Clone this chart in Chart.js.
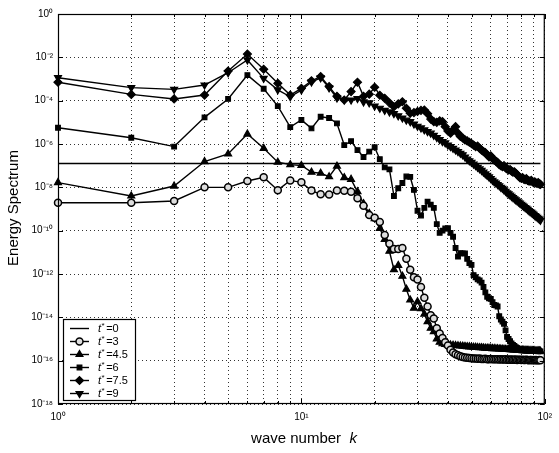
<!DOCTYPE html>
<html>
<head>
<meta charset="utf-8">
<script src="https://cdn.jsdelivr.net/npm/chart.js@4.4.0/dist/chart.umd.min.js"></script>
<style>
  html, body { margin: 0; padding: 0; background: #fff; }
  canvas { display: block; }
</style>
</head>
<body>
<canvas id="spectrum" width="559" height="453"></canvas>
<script>
// wave numbers k
const kValues = [
  1, 2, 3, 4, 5, 6, 7, 8, 9, 10,
  11, 12, 13, 14, 15, 16, 17, 18, 19, 20,
  21, 22, 23, 24, 25, 26, 27, 28, 29, 30,
  31, 32, 33, 34, 35, 36, 37, 38, 39, 40,
  41, 42, 43, 44, 45, 46, 47, 48, 49, 50,
  51, 52, 53, 54, 55, 56, 57, 58, 59, 60,
  61, 62, 63, 64, 65, 66, 67, 68, 69, 70,
  71, 72, 73, 74, 75, 76, 77, 78, 79, 80,
  81, 82, 83, 84, 85, 86, 87, 88, 89, 90,
  91, 92, 93, 94, 95, 96
];

// energy spectra, stored as log10(E)
const t0K = [1, 96];
const t0Log = [-6.9, -6.9];

const t3Log = [
  -8.71, -8.71, -8.63, -8.00, -8.00, -7.71, -7.54, -8.13, -7.68, -7.77,
  -8.15, -8.32, -8.33, -8.15, -8.16, -8.20, -8.50, -8.85, -9.28, -9.40,
  -9.60, -10.20, -10.60, -10.85, -10.85, -10.80, -11.30, -11.80, -12.15, -12.25,
  -12.60, -13.10, -13.50, -13.90, -14.05, -14.50, -14.75, -14.95, -15.15, -15.30,
  -15.50, -15.62, -15.70, -15.75, -15.80, -15.83, -15.85, -15.87, -15.88, -15.89,
  -15.90, -15.90, -15.91, -15.90, -15.92, -15.92, -15.91, -15.93, -15.93, -15.92,
  -15.94, -15.93, -15.94, -15.94, -15.95, -15.94, -15.95, -15.95, -15.94, -15.96,
  -15.95, -15.96, -15.95, -15.96, -15.96, -15.95, -15.97, -15.96, -15.96, -15.97,
  -15.96, -15.97, -15.97, -15.96, -15.97, -15.98, -15.97, -15.97, -15.98, -15.97,
  -15.98, -15.97, -15.98, -15.98, -15.97, -15.98
];

const t45Log = [
  -7.78, -8.40, -7.94, -6.81, -6.46, -5.54, -6.20, -6.84, -6.95, -6.99,
  -7.30, -7.35, -7.51, -7.02, -7.55, -7.63, -8.20, -8.75, -9.20, -9.45,
  -9.90, -10.40, -10.95, -11.80, -11.60, -12.10, -12.70, -13.20, -13.58, -13.28,
  -13.60, -13.85, -14.20, -14.50, -14.66, -15.00, -15.15, -15.22, -15.25, -15.27,
  -15.28, -15.29, -15.30, -15.31, -15.32, -15.33, -15.34, -15.35, -15.36, -15.37,
  -15.38, -15.38, -15.39, -15.40, -15.40, -15.41, -15.42, -15.42, -15.43, -15.43,
  -15.44, -15.44, -15.45, -15.45, -15.46, -15.46, -15.47, -15.47, -15.48, -15.48,
  -15.48, -15.49, -15.49, -15.50, -15.50, -15.50, -15.51, -15.51, -15.51, -15.52,
  -15.52, -15.52, -15.52, -15.53, -15.53, -15.53, -15.53, -15.54, -15.54, -15.54,
  -15.54, -15.55, -15.55, -15.55, -15.55, -15.56
];

const t6Log = [
  -5.25, -5.71, -6.12, -4.77, -3.92, -2.82, -3.45, -4.25, -5.22, -4.89,
  -5.28, -4.74, -4.80, -5.05, -6.05, -5.87, -6.28, -6.60, -6.35, -6.15,
  -6.70, -7.08, -7.17, -8.40, -8.04, -7.80, -7.50, -7.52, -8.12, -9.08,
  -9.30, -8.95, -8.66, -8.80, -8.95, -9.70, -10.10, -10.00, -9.90, -9.89,
  -10.10, -10.28, -10.80, -11.20, -11.04, -11.05, -11.05, -11.30, -11.50, -11.58,
  -12.05, -12.15, -12.25, -12.30, -12.40, -12.60, -12.85, -13.05, -13.12, -13.15,
  -13.30, -13.43, -13.45, -13.50, -13.95, -14.10, -14.20, -14.30, -14.60, -14.90,
  -15.00, -15.10, -15.20, -15.27, -15.32, -15.38, -15.42, -15.48, -15.50, -15.52,
  -15.52, -15.53, -15.52, -15.54, -15.53, -15.54, -15.55, -15.54, -15.55, -15.56,
  -15.55, -15.56, -15.56, -15.57, -15.56, -15.57
];

const t75Log = [
  -3.15, -3.71, -3.92, -3.74, -2.63, -1.85, -2.55, -3.20, -3.74, -3.43,
  -3.08, -2.89, -3.35, -3.80, -3.97, -3.58, -3.15, -3.80, -3.70, -3.38,
  -3.75, -3.89, -4.10, -4.28, -4.15, -4.05, -4.35, -4.58, -4.55, -4.50,
  -4.45, -4.43, -4.60, -4.85, -4.97, -5.00, -4.93, -4.97, -5.20, -5.40,
  -5.50, -5.35, -5.20, -5.50, -5.65, -5.72, -5.81, -5.86, -5.92, -5.98,
  -6.05, -6.12, -6.10, -6.20, -6.28, -6.35, -6.40, -6.50, -6.59, -6.55,
  -6.65, -6.75, -6.80, -6.85, -6.95, -7.00, -7.05, -7.00, -7.10, -7.15,
  -7.20, -7.18, -7.25, -7.30, -7.28, -7.35, -7.42, -7.48, -7.55, -7.58,
  -7.55, -7.62, -7.65, -7.60, -7.68, -7.70, -7.72, -7.68, -7.74, -7.78,
  -7.75, -7.80, -7.82, -7.78, -7.85, -7.86
];

const t9Log = [
  -2.94, -3.40, -3.48, -3.28, -2.71, -2.12, -2.97, -3.50, -3.82, -3.51,
  -3.14, -2.95, -3.41, -3.88, -3.97, -3.97, -3.90, -4.06, -4.10, -4.25,
  -4.35, -4.45, -4.52, -4.60, -4.70, -4.80, -4.90, -4.97, -5.08, -5.18,
  -5.26, -5.35, -5.43, -5.50, -5.60, -5.70, -5.80, -5.89, -5.95, -6.05,
  -6.12, -6.20, -6.28, -6.35, -6.43, -6.50, -6.60, -6.70, -6.78, -6.85,
  -6.93, -7.00, -7.08, -7.15, -7.22, -7.30, -7.38, -7.45, -7.52, -7.60,
  -7.68, -7.75, -7.80, -7.87, -7.93, -8.00, -8.05, -8.12, -8.18, -8.25,
  -8.30, -8.36, -8.42, -8.47, -8.53, -8.58, -8.63, -8.68, -8.73, -8.78,
  -8.83, -8.88, -8.93, -8.97, -9.02, -9.07, -9.12, -9.16, -9.20, -9.25,
  -9.30, -9.34, -9.38, -9.43, -9.47, -9.52
];

// axis ticks
const xTicks = [1, 2, 3, 4, 5, 6, 7, 8, 9, 10, 20, 30, 40, 50, 60, 70, 80, 90, 100];
const xLabelled = [1, 10, 100];
const yTicks = [1e-18, 1e-16, 1e-14, 1e-12, 1e-10, 1e-8, 1e-6, 1e-4, 1e-2, 1];

const legendValues = ['0', '3', '4.5', '6', '7.5', '9'];

const FONT = "'Liberation Sans', Arial, Helvetica, sans-serif";
const SUP = { '-': '\u207B', '0': '\u2070', '1': '\u00B9', '2': '\u00B2', '3': '\u00B3', '4': '\u2074',
  '5': '\u2075', '6': '\u2076', '7': '\u2077', '8': '\u2078', '9': '\u2079' };

function powLabel(v) {
  const e = String(Math.round(Math.log10(v)));
  return '10' + e.split('').map(c => SUP[c]).join('');
}

function toPoints(ks, logs) {
  return ks.map((k, i) => ({ x: k, y: Math.pow(10, logs[i]) }));
}

function series(label, ks, logs, style) {
  return Object.assign({
    label,
    data: toPoints(ks, logs),
    borderColor: '#000',
    borderWidth: 1.4,
    pointRadius: 3.5,
    pointHoverRadius: 3.5,
    pointStyle: 'circle',
    pointRotation: 0,
    pointBackgroundColor: '#000',
    pointBorderColor: '#000',
    pointBorderWidth: 1.2,
    tension: 0,
    fill: false,
    clip: false
  }, style);
}

const datasets = [
  series('t0', t0K, t0Log, { pointRadius: 0, pointStyle: false }),
  series('t3', kValues, t3Log, { pointStyle: 'circle', pointBackgroundColor: '#ddd', pointBorderWidth: 1.5 }),
  series('t4.5', kValues, t45Log, { pointStyle: 'triangle', pointRadius: 4 }),
  series('t6', kValues, t6Log, { pointStyle: 'rect', pointRadius: 3.3 }),
  series('t7.5', kValues, t75Log, { pointStyle: 'rectRot', pointRadius: 4 }),
  series('t9', kValues, t9Log, { pointStyle: 'triangle', pointRotation: 180, pointRadius: 4 })
];

// box, inward ticks, axis titles and legend drawn like the MATLAB figure
const figurePlugin = {
  id: 'figure',
  afterDraw(chart) {
    const { ctx, chartArea: a, scales } = chart;
    ctx.save();
    ctx.strokeStyle = '#000';
    ctx.lineWidth = 1.2;
    ctx.setLineDash([]);
    ctx.strokeRect(a.left + 0.5, a.top + 0.5, a.right - a.left - 1, a.bottom - a.top - 1);

    ctx.lineWidth = 1;
    ctx.beginPath();
    xTicks.forEach(v => {
      const px = Math.round(scales.x.getPixelForValue(v)) + 0.5;
      const len = xLabelled.includes(v) ? 5 : 3;
      ctx.moveTo(px, a.bottom); ctx.lineTo(px, a.bottom - len);
      ctx.moveTo(px, a.top); ctx.lineTo(px, a.top + len);
    });
    yTicks.forEach(v => {
      const py = Math.round(scales.y.getPixelForValue(v)) + 0.5;
      ctx.moveTo(a.left, py); ctx.lineTo(a.left + 5, py);
      ctx.moveTo(a.right, py); ctx.lineTo(a.right - 5, py);
    });
    ctx.stroke();

    // axis titles
    ctx.fillStyle = '#000';
    ctx.textBaseline = 'middle';
    ctx.font = '15px ' + FONT;
    ctx.save();
    ctx.translate(14, 208);
    ctx.rotate(-Math.PI / 2);
    ctx.textAlign = 'center';
    ctx.fillText('Energy Spectrum', 0, 0);
    ctx.restore();

    const partA = 'wave number  ';
    ctx.font = '15px ' + FONT;
    const wA = ctx.measureText(partA).width;
    ctx.font = 'italic 15px ' + FONT;
    const wB = ctx.measureText('k').width;
    const tx = 304 - (wA + wB) / 2;
    ctx.textAlign = 'left';
    ctx.font = '15px ' + FONT;
    ctx.fillText(partA, tx, 439);
    ctx.font = 'italic 15px ' + FONT;
    ctx.fillText('k', tx + wA, 439);

    // legend
    const lx = 63, ly = 319, lw = 72, lh = 81;
    ctx.fillStyle = '#fff';
    ctx.fillRect(lx, ly, lw, lh);
    ctx.strokeStyle = '#000';
    ctx.lineWidth = 1.2;
    ctx.strokeRect(lx + 0.5, ly + 0.5, lw, lh);
    datasets.forEach((ds, i) => {
      const cy = ly + 9.5 + i * 13;
      ctx.strokeStyle = '#000';
      ctx.lineWidth = 1.4;
      ctx.beginPath();
      ctx.moveTo(70, cy); ctx.lineTo(89, cy);
      ctx.stroke();
      if (ds.pointStyle) {
        ctx.fillStyle = ds.pointBackgroundColor;
        ctx.strokeStyle = '#000';
        ctx.lineWidth = ds.pointBorderWidth;
        Chart.helpers.drawPoint(ctx, {
          pointStyle: ds.pointStyle, radius: ds.pointRadius,
          rotation: ds.pointRotation, borderWidth: ds.pointBorderWidth
        }, 79.5, cy);
      }
      ctx.fillStyle = '#000';
      ctx.textAlign = 'left';
      let x = 98;
      ctx.font = 'italic 11px ' + FONT;
      ctx.fillText('t', x, cy);
      x += ctx.measureText('t').width;
      ctx.font = '8px ' + FONT;
      ctx.fillText('*', x + 0.5, cy - 3);
      x += ctx.measureText('*').width + 2;
      ctx.font = '11px ' + FONT;
      ctx.fillText('=' + legendValues[i], x, cy);
    });
    ctx.restore();
  }
};

const gridStyle = { color: 'rgba(0,0,0,0.8)', lineWidth: 1, drawTicks: false };

new Chart(document.getElementById('spectrum'), {
  type: 'line',
  data: { datasets },
  plugins: [figurePlugin],
  options: {
    responsive: false,
    animation: false,
    events: [],
    layout: { padding: { left: 0, right: 10, top: 14, bottom: 0 } },
    plugins: { legend: { display: false }, tooltip: { enabled: false } },
    scales: {
      x: {
        type: 'logarithmic',
        min: 1,
        max: 100,
        grid: gridStyle,
        border: { display: false, dash: [1, 3] },
        afterBuildTicks: s => { s.ticks = xTicks.map(v => ({ value: v })); },
        afterFit: s => { s.height = 49; },
        ticks: {
          autoSkip: false,
          maxRotation: 0,
          padding: 7,
          color: '#000',
          font: { size: 10, family: FONT },
          callback: v => xLabelled.includes(v) ? powLabel(v) : ''
        }
      },
      y: {
        type: 'logarithmic',
        min: 1e-18,
        max: 1,
        grid: gridStyle,
        border: { display: false, dash: [1, 3] },
        afterBuildTicks: s => { s.ticks = yTicks.map(v => ({ value: v })); },
        afterFit: s => { s.width = 58; },
        ticks: {
          autoSkip: false,
          padding: 5,
          color: '#000',
          font: { size: 10, family: FONT },
          callback: v => powLabel(v)
        }
      }
    }
  }
});
</script>
</body>
</html>
